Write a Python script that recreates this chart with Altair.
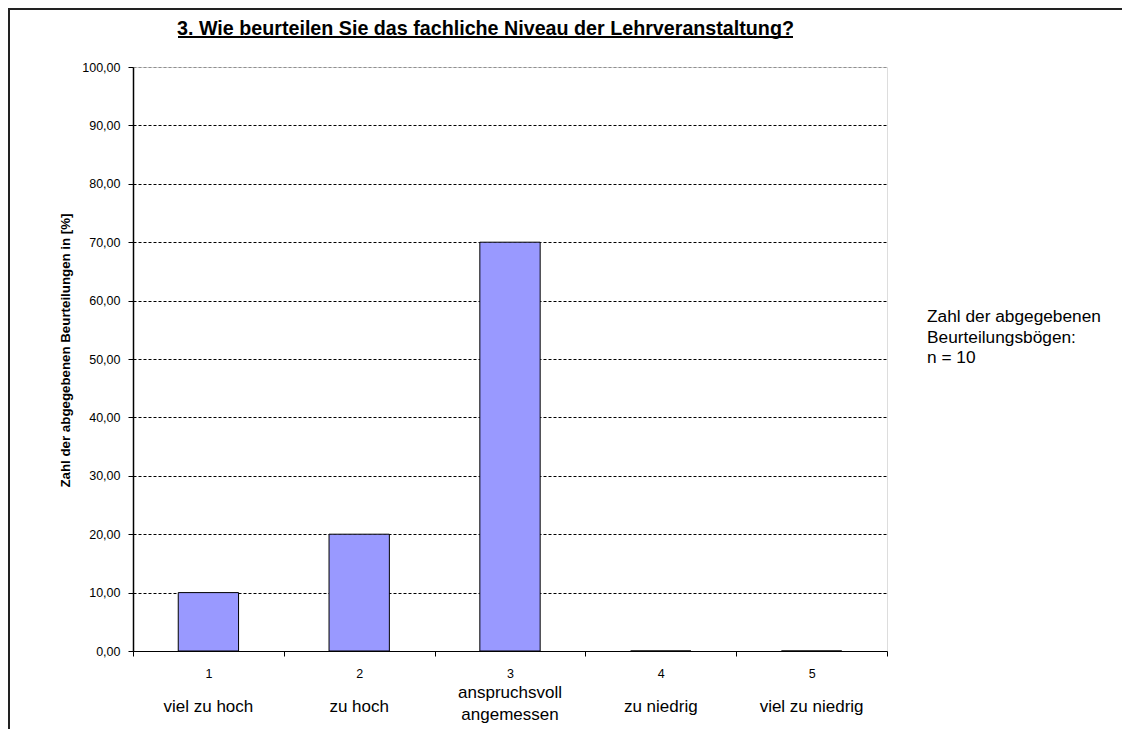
import altair as alt
import pandas as pd

categories = ["1", "2", "3", "4", "5"]
values = [10.0, 20.0, 70.0, 0.0, 0.0]
names = ["viel zu hoch", "zu hoch", "anspruchsvoll\nangemessen", "zu niedrig", "viel zu niedrig"]
y_ticks = [0, 10, 20, 30, 40, 50, 60, 70, 80, 90, 100]
title_text = "3. Wie beurteilen Sie das fachliche Niveau der Lehrveranstaltung?"
y_title = "Zahl der abgegebenen Beurteilungen in [%]"
note_text = "Zahl der abgegebenen\nBeurteilungsbögen:\nn = 10"

FONT = "Liberation Sans"
W, H = 754, 584

df = pd.DataFrame({"cat": categories, "val": values, "name": names})
one = pd.DataFrame({"k": [0]})

x_enc = alt.X(
    "cat:N",
    sort=categories,
    scale=alt.Scale(paddingInner=0, paddingOuter=0),
    axis=alt.Axis(
        title=None, labelAngle=0, tickBand="extent", domainColor="black",
        tickColor="black", tickSize=5, labelFontSize=12.5, labelPadding=11,
        labelFont=FONT, labelColor="black", grid=False,
    ),
)

bars = alt.Chart(df).mark_bar(
    color="#9999FF", stroke="black", strokeWidth=1, width=alt.RelativeBandSize(0.4)
).encode(
    x=x_enc,
    y=alt.Y(
        "val:Q",
        scale=alt.Scale(domain=[0, 100], nice=False),
        axis=alt.Axis(
            values=y_ticks,
            labelExpr="replace(format(datum.value, '.2f'), '.', ',')",
            title=y_title, titleFont=FONT, titleFontSize=13.3, titleFontWeight="bold",
            titleColor="black", titleX=-68, titleY=283, titleAngle=-90,
            titleAlign="center", titleBaseline="middle",
            labelFont=FONT, labelFontSize=12.5, labelColor="black", labelPadding=8,
            tickSize=5, tickColor="black", domainColor="black", domainWidth=1.5,
            grid=True,
            gridColor={"condition": {"test": "datum.value === 100", "value": "#909090"}, "value": "#000000"},
            gridDash=[3, 2], gridWidth=1,
        ),
    ),
)

text_style = dict(font=FONT, fontSize=17, color="black", baseline="middle", align="center")
x_plain = alt.X("cat:N", sort=categories)

name_single = alt.Chart(df).transform_filter(
    "indexof(datum.name, '\\n') < 0"
).mark_text(**text_style).encode(x=x_plain, y=alt.value(H + 56), text="name:N")

name_first = alt.Chart(df).transform_filter(
    "indexof(datum.name, '\\n') >= 0"
).transform_calculate(
    line="split(datum.name, '\\n')[0]"
).mark_text(**text_style).encode(x=x_plain, y=alt.value(H + 42), text="line:N")

name_second = alt.Chart(df).transform_filter(
    "indexof(datum.name, '\\n') >= 0"
).transform_calculate(
    line="split(datum.name, '\\n')[1]"
).mark_text(**text_style).encode(x=x_plain, y=alt.value(H + 64), text="line:N")

note = alt.Chart(one).mark_text(
    font=FONT, fontSize=17.3, color="black", baseline="middle", align="left",
    lineBreak="\n", lineHeight=20.5,
).encode(x=alt.value(794), y=alt.value(250), text=alt.value(note_text))

title = alt.Chart(one).mark_text(
    font=FONT, fontSize=19.7, fontWeight="bold", color="black",
    baseline="alphabetic", align="center",
).encode(x=alt.value(352.5), y=alt.value(-32), text=alt.value(title_text))

underline = alt.Chart(one).mark_rule(color="black", strokeWidth=1.8).encode(
    x=alt.value(45), x2=alt.value(660), y=alt.value(-30)
)

frame_left = alt.Chart(one).mark_rule(color="#222222", strokeWidth=2).encode(
    x=alt.value(-124), y=alt.value(-60), y2=alt.value(H + 200)
)
frame_top = alt.Chart(one).mark_rule(color="#222222", strokeWidth=2).encode(
    x=alt.value(-124), x2=alt.value(W + 300), y=alt.value(-58)
)

chart = alt.layer(
    bars, name_single, name_first, name_second, note, title, underline, frame_left, frame_top
).properties(
    width=W,
    height=H,
    autosize=alt.AutoSizeParams(type="none"),
    padding={"left": 125, "top": 59, "right": 235, "bottom": 78},
).configure_view(stroke="#909090", strokeWidth=1).configure(background="white")

chart.save("out.html", embed_options={"renderer": "svg", "actions": False})
